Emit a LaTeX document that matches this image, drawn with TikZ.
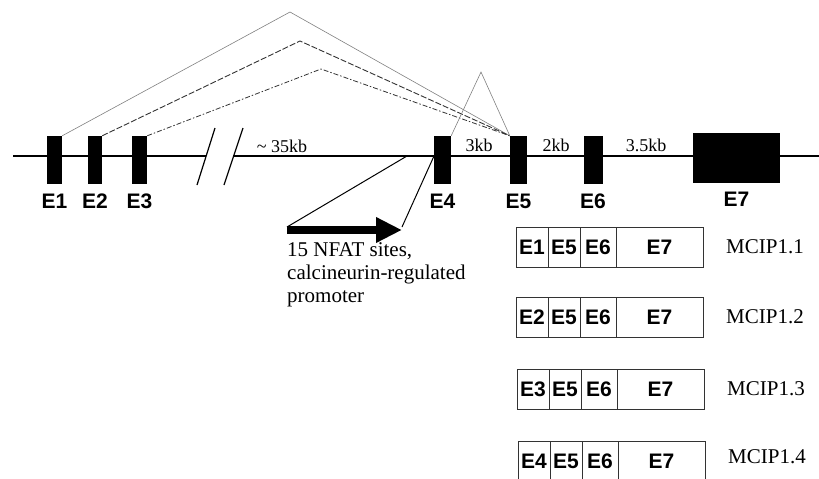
\documentclass[tikz,border=0pt]{standalone}
\usepackage{fontspec}
\setmainfont{Liberation Serif}
\setsansfont{Liberation Sans}
\usetikzlibrary{arrows.meta}
\usetikzlibrary{positioning}
\tikzset{
    exon/.style = {rectangle, fill=black, inner sep=0pt, minimum height=48pt},
    exlab/.style = {anchor=base, inner sep=0pt, font=\sffamily\bfseries\fontsize{21}{21}\selectfont},
    kb/.style = {anchor=base, inner sep=0pt, font=\fontsize{18}{18}\selectfont},
    splice/.style = {gray, line width=0.6pt},
    cell/.style = {rectangle, draw=black!80, line width=0.8pt, outer sep=0pt, minimum height=40pt, inner sep=0pt, font=\sffamily\bfseries\fontsize{21}{21}\selectfont},
    iso/.style = {anchor=west, inner sep=0pt, font=\fontsize{21}{21}\selectfont},
    note/.style = {anchor=base west, inner sep=0pt, align=left, font=\fontsize{21}{23}\selectfont}
}

\begin{document}
\begin{tikzpicture}[x=1pt, y=-1pt]
    \useasboundingbox (0,0) rectangle (819,479);

    % gene line
    \coordinate (lstart) at (13,156);
    \coordinate (bk1) at (206,156);
    \coordinate (bk2) at (233,156);
    \coordinate (lend) at (819,156);
    \draw[line width=2.4pt] (lstart) -- (bk1);
    \draw[line width=2.4pt] (bk2) -- (lend);
    \draw[line width=1.2pt] (197,185) -- (215,128);
    \draw[line width=1.2pt] (224,185) -- (243,128);

    % exons
    \node[exon, minimum width=15pt] (ex1) at (54.5,160) {};
    \node[exon, minimum width=14pt] (ex2) at (95,160) {};
    \node[exon, minimum width=15pt] (ex3) at (139.5,160) {};
    \node[exon, minimum width=17pt] (ex4) at (442.5,160) {};
    \node[exon, minimum width=17pt] (ex5) at (518.5,160) {};
    \node[exon, minimum width=19pt] (ex6) at (593,160) {};
    \node[exon, minimum width=87pt, minimum height=50pt] (ex7) at (736.5,158) {};

    \node[exlab] (lab1) at ([yshift=-24pt]ex1.south) {E1};
    \node[exlab] (lab2) at ([yshift=-24pt]ex2.south) {E2};
    \node[exlab] (lab3) at ([yshift=-24pt]ex3.south) {E3};
    \node[exlab] (lab4) at ([yshift=-24pt]ex4.south) {E4};
    \node[exlab] (lab5) at ([yshift=-24pt]ex5.south) {E5};
    \node[exlab] (lab6) at ([yshift=-24pt]ex6.south) {E6};
    \node[exlab] (lab7) at ([yshift=-23pt]ex7.south) {E7};

    % distances
    \node[kb] (kb35) at (282,152) {\textasciitilde{} 35kb};
    \node[kb] (kb3) at (479,151) {3kb};
    \node[kb] (kb2) at (556,151) {2kb};
    \node[kb] (kb35b) at (646,151) {3.5kb};

    % splicing
    \coordinate (pk1) at (290,12);
    \coordinate (pk2) at (300,41);
    \coordinate (pk3) at (321,69);
    \coordinate (pk4) at (481,72);
    \draw[splice] (ex1.north east) -- (pk1) -- (ex5.north west);
    \draw[black!80, line width=0.9pt, dash pattern=on 6pt off 2pt] (ex2.north east) -- (pk2) -- (ex5.north west);
    \draw[black!80, line width=0.8pt, dash pattern=on 5pt off 2pt on 1.5pt off 2pt] (ex3.north east) -- (pk3) -- (ex5.north west);
    \draw[splice] (ex4.north east) -- (pk4) -- (ex5.north west);

    % promoter
    \coordinate (pr1) at (407,156);
    \coordinate (pr2) at (434,156);
    \coordinate (arL) at (287,230);
    \coordinate (arR) at (402,230);
    \draw[line width=1pt] (pr1) -- ([yshift=3pt]arL);
    \draw[line width=1pt] (pr2) -- ([yshift=3pt]arR);
    \draw[line width=7.5pt, -{Triangle[length=26pt, width=24pt]}] (arL) -- (arR);
    \node[note] (prom) at (287,302) {15 NFAT sites,\\calcineurin-regulated\\promoter};

    % transcripts
    \node[cell, minimum width=32pt, anchor=north west] (r1a) at (516,227) {E1};
    \node[cell, minimum width=32pt, right=0pt of r1a] (r1b) {E5};
    \node[cell, minimum width=36pt, right=0pt of r1b] (r1c) {E6};
    \node[cell, minimum width=87pt, right=0pt of r1c] (r1d) {E7};
    \node[iso] (m1) at ([xshift=23pt]r1d.east) {MCIP1.1};

    \node[cell, minimum width=32pt, anchor=north west] (r2a) at (516,297) {E2};
    \node[cell, minimum width=32pt, right=0pt of r2a] (r2b) {E5};
    \node[cell, minimum width=36pt, right=0pt of r2b] (r2c) {E6};
    \node[cell, minimum width=87pt, right=0pt of r2c] (r2d) {E7};
    \node[iso] (m2) at ([xshift=23pt]r2d.east) {MCIP1.2};

    \node[cell, minimum width=32pt, anchor=north west] (r3a) at (517,369) {E3};
    \node[cell, minimum width=32pt, right=0pt of r3a] (r3b) {E5};
    \node[cell, minimum width=36pt, right=0pt of r3b] (r3c) {E6};
    \node[cell, minimum width=87pt, right=0pt of r3c] (r3d) {E7};
    \node[iso] (m3) at ([xshift=23pt]r3d.east) {MCIP1.3};

    \node[cell, minimum width=32pt, anchor=north west] (r4a) at (518,441) {E4};
    \node[cell, minimum width=32pt, right=0pt of r4a] (r4b) {E5};
    \node[cell, minimum width=36pt, right=0pt of r4b] (r4c) {E6};
    \node[cell, minimum width=87pt, right=0pt of r4c] (r4d) {E7};
    \node[iso] (m4) at ([xshift=23pt,yshift=4pt]r4d.east) {MCIP1.4};
\end{tikzpicture}
\end{document}
